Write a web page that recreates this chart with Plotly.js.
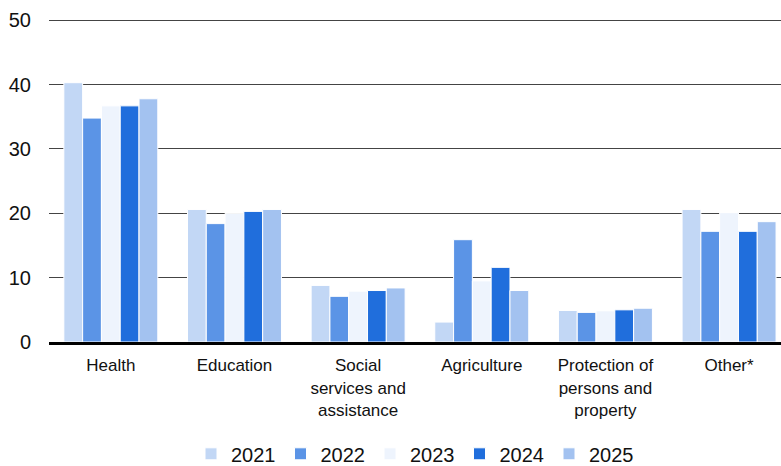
<!DOCTYPE html>
<html>
<head>
<meta charset="utf-8">
<script src="https://cdn.plot.ly/plotly-3.0.1.min.js"></script>
<style>html,body{margin:0;padding:0;background:#fff;}#chart{width:781px;height:466px;}</style>
</head>
<body>
<div id="chart"></div>
<script>
const categories = ["Health", "Education", "Social<br>services and<br>assistance", "Agriculture", "Protection of<br>persons and<br>property", "Other*"];
const years = ["2021", "2022", "2023", "2024", "2025"];
const v2021 = [40.3, 20.6, 8.8, 3.1, 4.9, 20.6];
const v2022 = [34.8, 18.4, 7.1, 15.9, 4.6, 17.2];
const v2023 = [36.7, 20.0, 7.9, 9.5, 4.85, 20.1];
const v2024 = [36.7, 20.3, 8.0, 11.6, 5.0, 17.2];
const v2025 = [37.8, 20.6, 8.4, 8.0, 5.25, 18.7];
const seriesValues = [v2021, v2022, v2023, v2024, v2025];
const colors = ["#C2D7F5", "#5B94E6", "#EEF4FD", "#206EDC", "#A3C2F0"];

const traces = years.map((yr, i) => ({
  type: "bar",
  name: yr,
  x: categories,
  y: seriesValues[i],
  marker: {color: colors[i], line: {color: "#ffffff", width: 1}},
  hoverinfo: "skip"
}));

const layout = {
  width: 781, height: 466,
  margin: {l: 49, r: 0, t: 19, b: 124},
  paper_bgcolor: "#fff", plot_bgcolor: "#fff",
  font: {family: "Liberation Sans, Arial, sans-serif", color: "#111"},
  barmode: "group",
  bargap: 0.24,
  bargroupgap: 0,
  showlegend: true,
  legend: {orientation: "h", x: 0.5, xanchor: "center", xref: "paper",
           y: 0.068, yanchor: "top", yref: "container",
           font: {size: 20, color: "#111"}, itemwidth: 30, traceorder: "normal"},
  xaxis: {
    type: "category",
    range: [-0.5, 5.42],
    showline: true, linecolor: "#000", linewidth: 3,
    showgrid: false, ticks: "",
    tickfont: {size: 17, color: "#111"},
    ticklabelstandoff: 6,
    automargin: false,
    fixedrange: true
  },
  yaxis: {
    range: [0, 50.2],
    tickvals: [0, 10, 20, 30, 40, 50],
    showgrid: true, gridcolor: "#444", gridwidth: 1,
    zeroline: false, showline: false, ticks: "",
    tickfont: {size: 20, color: "#111"},
    ticklabelstandoff: 17,
    automargin: false,
    fixedrange: true
  }
};

Plotly.newPlot("chart", traces, layout, {displayModeBar: false, staticPlot: true});
</script>
</body>
</html>
